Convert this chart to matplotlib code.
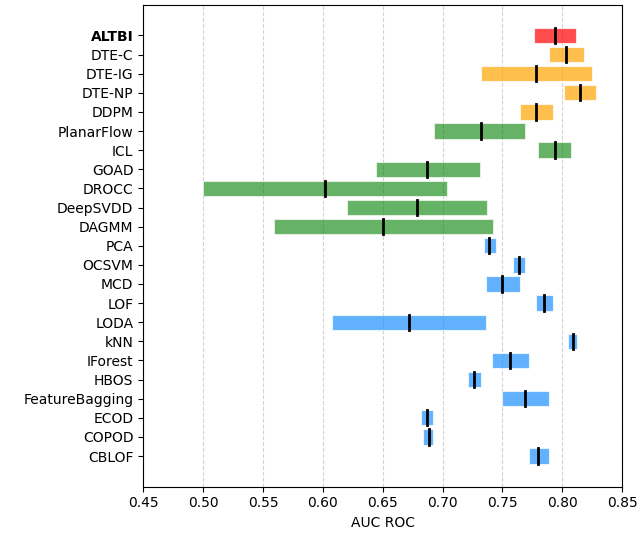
import numpy as np
import matplotlib
matplotlib.use("Agg")
import matplotlib.pyplot as plt

methods = ["ALTBI", "DTE-C", "DTE-IG", "DTE-NP", "DDPM", "PlanarFlow", "ICL",
           "GOAD", "DROCC", "DeepSVDD", "DAGMM", "PCA", "OCSVM", "MCD", "LOF",
           "LODA", "kNN", "IForest", "HBOS", "FeatureBagging", "ECOD", "COPOD",
           "CBLOF"]
low = [0.776, 0.789, 0.732, 0.801, 0.765, 0.693, 0.780,
       0.644, 0.500, 0.620, 0.559, 0.7345, 0.759, 0.7365, 0.778,
       0.608, 0.805, 0.741, 0.721, 0.7495, 0.682, 0.684,
       0.772]
high = [0.811, 0.818, 0.825, 0.828, 0.792, 0.769, 0.807,
        0.731, 0.704, 0.737, 0.742, 0.7445, 0.769, 0.7646, 0.792,
        0.7365, 0.812, 0.772, 0.732, 0.789, 0.692, 0.692,
        0.789]
median = [0.794, 0.803, 0.778, 0.815, 0.778, 0.732, 0.794,
          0.687, 0.602, 0.679, 0.650, 0.739, 0.764, 0.750, 0.785,
          0.672, 0.809, 0.7565, 0.726, 0.769, 0.687, 0.689,
          0.780]
groups = ["ours"] + ["diffusion"] * 4 + ["deep"] * 6 + ["classic"] * 12
group_colors = {"ours": "red", "diffusion": "orange", "deep": "green", "classic": "dodgerblue"}
group_alpha = {"ours": 0.7, "diffusion": 0.7, "deep": 0.6, "classic": 0.7}

fig = plt.figure(figsize=(6.37, 5.36), dpi=100)
ax = fig.add_axes([0.2248, 0.092, 0.752, 0.899])

y = np.arange(len(methods))
low = np.array(low)
high = np.array(high)
for i in range(len(methods)):
    g = groups[i]
    ax.barh(y[i], high[i] - low[i], left=low[i], height=0.8,
            color=group_colors[g], alpha=group_alpha[g],
            edgecolor="white", linewidth=0.8, zorder=2)
    ax.plot([median[i], median[i]], [y[i] - 0.4, y[i] + 0.4], color="black",
            linewidth=2, zorder=3)

ax.set_yticks(y)
ax.set_yticklabels(methods)
ax.get_yticklabels()[0].set_fontweight("bold")
ax.set_ylim(len(methods) - 1 + 1.6, -1.6)
ax.set_xlim(0.45, 0.85)
ax.set_xticks(np.arange(0.45, 0.851, 0.05))
ax.set_xticklabels([f"{v:.2f}" for v in np.arange(0.45, 0.851, 0.05)])
ax.set_xlabel("AUC ROC")
ax.grid(axis="x", linestyle="--", color="lightgray", zorder=0)
ax.set_axisbelow(True)

fig.savefig("out.png", dpi=100)
